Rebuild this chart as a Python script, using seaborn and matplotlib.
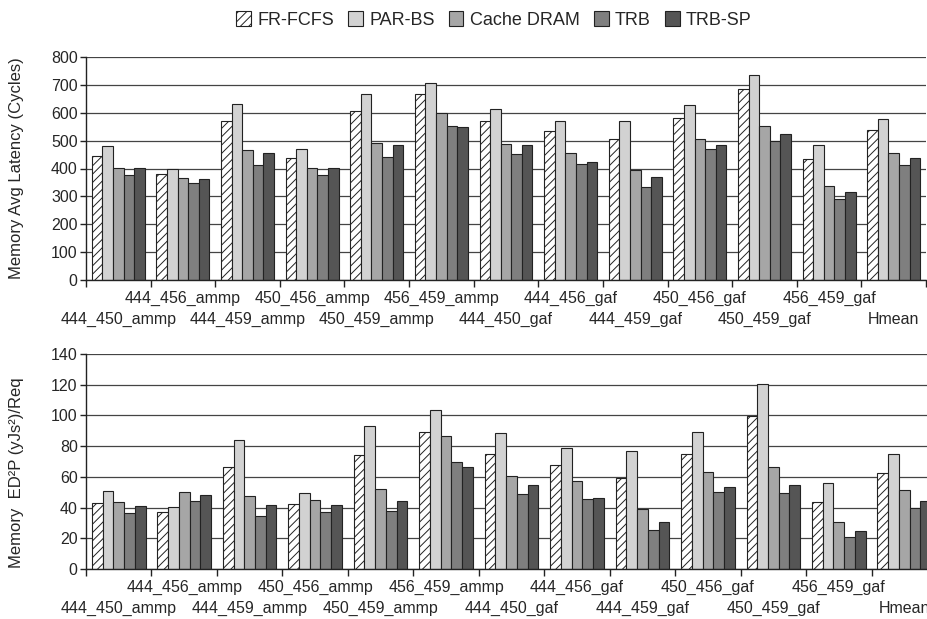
import pandas as pd
import matplotlib
matplotlib.use('Agg')
import matplotlib.pyplot as plt
import seaborn as sns
from matplotlib.patches import Patch
import warnings
warnings.filterwarnings("ignore")

# workload pairs on the x axis
groups = ['444_450_ammp', '444_456_ammp', '444_459_ammp', '450_456_ammp', '450_459_ammp',
          '456_459_ammp', '444_450_gaf', '444_456_gaf', '444_459_gaf', '450_456_gaf',
          '450_459_gaf', '456_459_gaf', 'Hmean']
schemes = ['FR-FCFS', 'PAR-BS', 'Cache DRAM', 'TRB', 'TRB-SP']

# memory average latency (cycles)
lat_fr_fcfs = [445, 381, 572, 438, 607, 666, 571, 535, 507, 582, 684, 435, 537]
lat_par_bs = [480, 398, 632, 469, 668, 707, 613, 572, 569, 628, 737, 483, 578]
lat_cache = [401, 366, 466, 401, 492, 599, 487, 455, 396, 507, 551, 338, 454]
lat_trb = [377, 348, 413, 376, 441, 553, 453, 417, 335, 469, 497, 290, 414]
lat_trb_sp = [402, 364, 455, 401, 483, 550, 484, 422, 371, 486, 522, 316, 438]

# memory ED2P per request
ed_fr_fcfs = [42.8, 37.4, 66.3, 42.6, 74.1, 88.9, 75.0, 67.4, 59.3, 75.2, 99.8, 43.7, 62.6]
ed_par_bs = [50.7, 40.4, 83.7, 49.3, 92.8, 103.7, 88.3, 78.5, 77.0, 89.1, 120.7, 55.7, 75.2]
ed_cache = [43.9, 50.2, 47.8, 44.8, 52.0, 86.5, 60.7, 57.2, 38.9, 63.3, 66.5, 30.9, 51.7]
ed_trb = [36.7, 44.1, 34.6, 37.4, 37.6, 69.8, 48.9, 45.4, 25.2, 50.2, 49.6, 20.9, 40.0]
ed_trb_sp = [41.1, 48.3, 42.0, 41.7, 44.6, 66.3, 54.8, 46.5, 30.9, 53.3, 54.8, 25.0, 44.1]

colors = ['#ffffff', '#d2d2d2', '#a6a6a6', '#7f7f7f', '#555555']


def long_df(series):
    rows = []
    for name, vals in zip(schemes, series):
        for g, v in zip(groups, vals):
            rows.append({'group': g, 'scheme': name, 'value': v})
    return pd.DataFrame(rows)


lat_df = long_df([lat_fr_fcfs, lat_par_bs, lat_cache, lat_trb, lat_trb_sp])
ed_df = long_df([ed_fr_fcfs, ed_par_bs, ed_cache, ed_trb, ed_trb_sp])

sns.set_style('white')
plt.rcParams['font.family'] = ['Liberation Sans', 'DejaVu Sans']
plt.rcParams['hatch.linewidth'] = 0.7

fig = plt.figure(figsize=(9.27, 6.19), dpi=100)
ax1 = fig.add_axes([86 / 927, 1 - 280 / 619, 840 / 927, 223 / 619])
ax2 = fig.add_axes([86 / 927, 1 - 569 / 619, 851 / 927, 215 / 619])


def draw(ax, df, ymax, step, ylabel):
    sns.barplot(data=df, x='group', y='value', hue='scheme', palette=colors,
                edgecolor='#222222', linewidth=0.8, width=0.82, gap=0,
                saturation=1, legend=False, ax=ax)
    for bar in ax.containers[0]:
        bar.set_hatch('////')
    n = len(groups)
    ax.set_xlim(-0.5, n - 0.5)
    ax.set_ylim(0, ymax)
    ax.set_yticks(range(0, ymax + 1, step))
    ax.yaxis.grid(True, color='#444444', linewidth=0.9)
    ax.set_axisbelow(True)
    for s in ['top', 'right']:
        ax.spines[s].set_visible(False)
    for s in ['left', 'bottom']:
        ax.spines[s].set_color('#222222')
        ax.spines[s].set_linewidth(1.0)
    # upper row of labels (odd groups) on the main axis
    upper = [i for i in range(n) if i % 2 == 1]
    ax.set_xticks(upper)
    ax.set_xticklabels([groups[i] for i in upper], fontsize=11.5)
    ax.tick_params(axis='x', which='major', length=0, pad=8)
    # group borders as minor ticks
    ax.set_xticks([i - 0.5 for i in range(n + 1)], minor=True)
    ax.tick_params(axis='x', which='minor', direction='out', length=5,
                   width=1, color='#222222', bottom=True)
    # lower row of labels (even groups) on a secondary axis
    sec = ax.secondary_xaxis('bottom')
    lower = [i for i in range(n) if i % 2 == 0]
    sec.set_xticks(lower)
    sec.set_xticklabels([groups[i] for i in lower], fontsize=11.5)
    sec.tick_params(axis='x', length=0, pad=23)
    sec.spines['bottom'].set_visible(False)
    ax.tick_params(axis='y', direction='out', length=4, width=1,
                   color='#222222', left=True, labelsize=11.5, pad=2)
    ax.set_xlabel('')
    ax.set_ylabel(ylabel, fontsize=12, labelpad=6)


draw(ax1, lat_df, 800, 100, 'Memory Avg Latency (Cycles)')
draw(ax2, ed_df, 140, 20, 'Memory  ED\u00b2P (yJs\u00b2)/Req')
ax1.yaxis.set_label_coords(-0.074, 0.5)
ax2.yaxis.set_label_coords(-0.073, 0.45)

handles = []
for i, (name, c) in enumerate(zip(schemes, colors)):
    handles.append(Patch(facecolor=c, edgecolor='#222222', linewidth=0.8,
                         hatch='////' if i == 0 else None, label=name))
fig.legend(handles=handles, loc='center', bbox_to_anchor=(494 / 927, 1 - 20 / 619),
           ncol=5, frameon=False, handlelength=0.8, handleheight=0.9,
           handletextpad=0.35, columnspacing=0.8, prop={'size': 13})

fig.savefig('out.png', dpi=100)
